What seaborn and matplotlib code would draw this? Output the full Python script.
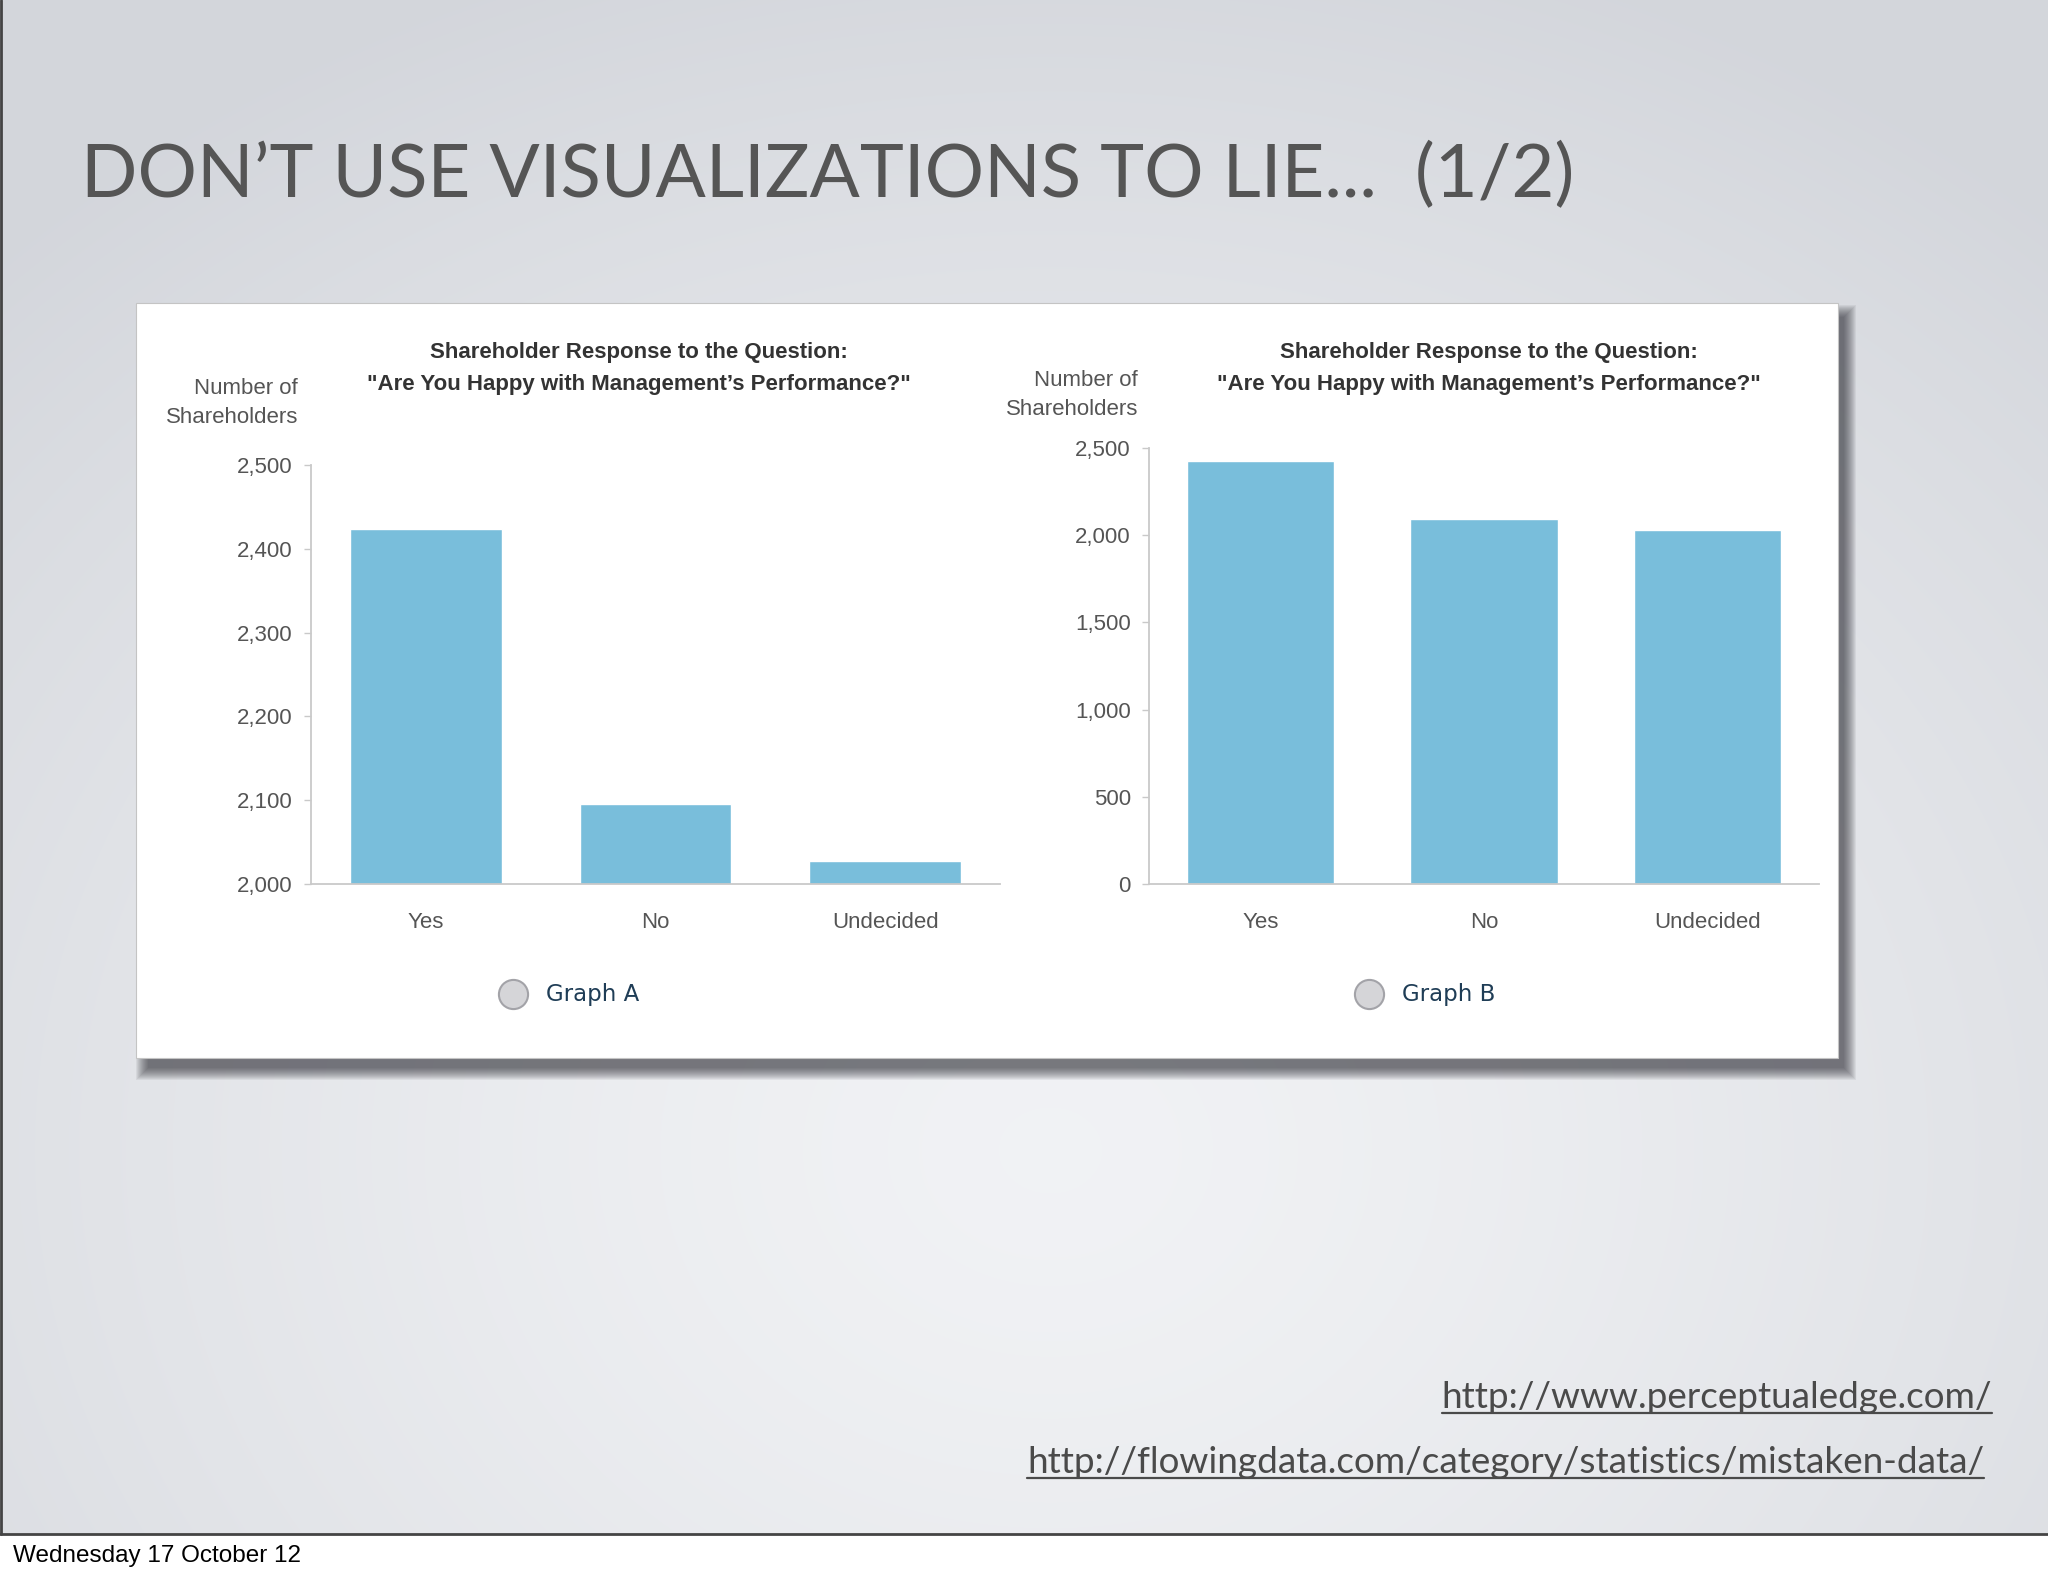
import numpy as np
import matplotlib
matplotlib.use("Agg")
import matplotlib.pyplot as plt
from matplotlib.patches import Rectangle
from matplotlib.ticker import FuncFormatter, MultipleLocator
import seaborn as sns

# data (same survey drawn twice)
categories = ["Yes", "No", "Undecided"]
responses = [2424, 2095, 2028]
title_lines = ["Shareholder Response to the Question:",
               '"Are You Happy with Management\u2019s Performance?"']
ylabel_lines = "Number of\nShareholders"
slide_title = "DON\u2019T USE VISUALIZATIONS TO LIE...  (1/2)"
urls = ["http://www.perceptualedge.com/",
        "http://flowingdata.com/category/statistics/mistaken-data/"]
footer = "Wednesday 17 October 12"

W, H = 2048, 1576
bar_color = "#79bedb"
axis_grey = "#c9c9c9"
label_grey = "#555555"

sns.set_style("white")
plt.rcParams["font.family"] = ["Liberation Sans", "DejaVu Sans"]

fig = plt.figure(figsize=(W / 100, H / 100), dpi=100)

# background axes in pixel coords (y down)
bg = fig.add_axes([0, 0, 1, 1])
bg.set_xlim(0, W)
bg.set_ylim(H, 0)
bg.axis("off")

yy, xx = np.mgrid[0:1535, 0:W]
r = np.clip(np.hypot((xx - 1050) / 1500, (yy - 1150) / 1250), 0, 1)
c_in = np.array([0.945, 0.950, 0.960])
c_out = np.array([0.830, 0.840, 0.862])
grad = c_in + (c_out - c_in) * (r[..., None] ** 1.4)
bg.imshow(grad, extent=(0, W, 1535, 0), aspect="auto", zorder=0)
bg.add_patch(Rectangle((0, 1535), W, 41, fc="white", lw=0, zorder=1))
bg.plot([1, 1], [0, 1534], color="#444444", lw=2, zorder=2)
bg.plot([0, W], [1534, 1534], color="#444444", lw=2, zorder=2)

# white card with drop shadow (mostly right and below)
px0, py0, pw, ph = 136, 303, 1702, 755
sx0, sy0 = px0 + 12, py0 + 14
sw, sh = pw - 6, ph - 4
for i in range(13):
    bg.add_patch(Rectangle((sx0 - i, sy0 - i), sw + 2 * i, sh + 2 * i,
                           fc="#2a2a32", alpha=0.065, lw=0, zorder=3))
bg.add_patch(Rectangle((px0, py0), pw, ph, fc="white", ec="#c4c4c4", lw=0.8, zorder=4))

# slide title and links
bg.text(81, 176, slide_title, ha="left", va="center", fontsize=53.6,
        family="Lato", color="#555555", zorder=5)
url_texts = []
for txt, x, base in zip(urls, [1992, 1984], [1408, 1473]):
    t = bg.text(x, base, txt, ha="right", va="baseline", fontsize=26.6,
                family="Lato", color="#4a4a4a", zorder=5)
    url_texts.append((t, base))
bg.text(13, 1556, footer, ha="left", va="center", fontsize=17.5, color="black", zorder=5)


def draw_chart(rect, ylim, step, title_x, ylab_x, ylab_y, legend_x, legend_label):
    ax = fig.add_axes([rect[0] / W, 1 - rect[3] / H, (rect[2] - rect[0]) / W, (rect[3] - rect[1]) / H])
    ax.set_facecolor("none")
    sns.barplot(x=categories, y=responses, ax=ax, color=bar_color, saturation=1, width=0.66)
    ax.set_ylim(*ylim)
    ax.set_xlim(-0.5, 2.5)
    ax.yaxis.set_major_locator(MultipleLocator(step))
    ax.yaxis.set_major_formatter(FuncFormatter(lambda v, p: f"{v:,.0f}"))
    sns.despine(ax=ax)
    for s in ["left", "bottom"]:
        ax.spines[s].set_color(axis_grey)
        ax.spines[s].set_linewidth(1.3)
    ax.tick_params(axis="y", length=5, width=1, color=axis_grey, labelcolor=label_grey,
                   labelsize=16, pad=8, left=True)
    ax.tick_params(axis="x", length=0, labelcolor=label_grey, labelsize=16, pad=20)
    ax.set_xlabel("")
    ax.set_ylabel("")

    bg.text(title_x, 352, title_lines[0], ha="center", va="center", fontsize=16,
            fontweight="bold", color="#333333", zorder=5)
    bg.text(title_x, 384, title_lines[1], ha="center", va="center", fontsize=16,
            fontweight="bold", color="#333333", zorder=5)
    bg.text(ylab_x, ylab_y, ylabel_lines, ha="right", va="center", fontsize=16,
            color=label_grey, linespacing=1.45, zorder=5)
    bg.plot([legend_x], [994], marker="o", ms=21, mfc="#d5d5d8", mec="#a3a3a8",
            mew=1.5, ls="", zorder=5)
    bg.text(legend_x + 33, 994, legend_label, ha="left", va="center", fontsize=16.5,
            family="DejaVu Sans", color="#1f3d56", zorder=5)
    return ax


ax_a = draw_chart((311, 465, 1000, 884), (2000, 2500), 100, 639, 298, 403, 513, "Graph A")
ax_b = draw_chart((1149, 448, 1819, 884), (0, 2500), 500, 1489, 1138, 395, 1369, "Graph B")

# underline the links
fig.canvas.draw()
renderer = fig.canvas.get_renderer()
for t, base in url_texts:
    bb = t.get_window_extent(renderer)
    bg.plot([bb.x0, bb.x1], [base + 5, base + 5], color="#4a4a4a", lw=1.6, zorder=5)

fig.savefig("out.png", dpi=100)
